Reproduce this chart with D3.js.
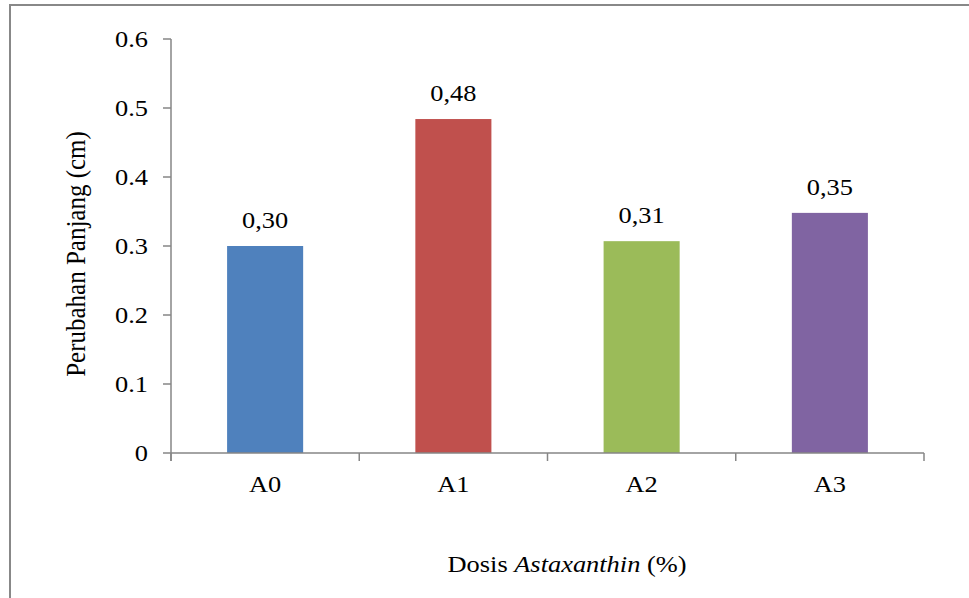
<!DOCTYPE html>
<html><head><meta charset="utf-8">
<script src="https://cdn.jsdelivr.net/npm/d3@7"></script>
<style>body{margin:0;background:#fff}svg{display:block}text{font-family:"Liberation Serif","Times New Roman",serif;fill:#000}</style>
</head><body>
<svg id="c" width="969" height="598"></svg>
<script>
const categories = ["A0","A1","A2","A3"];
const values = [0.300, 0.484, 0.307, 0.348];
const valueLabels = ["0,30","0,48","0,31","0,35"];
const colors = ["#4F81BD","#C0504D","#9BBB59","#8064A2"];
const yTicks = [0,0.1,0.2,0.3,0.4,0.5,0.6];
const yTickLabels = ["0","0.1","0.2","0.3","0.4","0.5","0.6"];

const svg = d3.select("#c");
const L=171, R=924, T=39, B=453;
const axisColor = "#868686";
const SX = 1.1;
function txt(g, px, py, anchor, size){
  return g.append("text").attr("transform",`translate(${px},${py}) scale(${SX},1)`)
    .attr("text-anchor",anchor).attr("font-size",size);
}

// frame
svg.append("line").attr("x1",10).attr("x2",969).attr("y1",5).attr("y2",5).attr("stroke","#888").attr("stroke-width",2);
svg.append("line").attr("x1",10).attr("x2",10).attr("y1",4).attr("y2",598).attr("stroke","#888").attr("stroke-width",2);

const x = d3.scaleBand().domain(categories).range([L,R]).paddingInner(0).paddingOuter(0);
const y = d3.scaleLinear().domain([0,0.6]).range([B,T]);
const bw = x.bandwidth()*0.404;

svg.selectAll("rect.bar").data(categories).enter().append("rect")
  .attr("x",d=>x(d)+x.bandwidth()/2-bw/2).attr("width",bw)
  .attr("y",(d,i)=>y(values[i])).attr("height",(d,i)=>B-y(values[i]))
  .attr("fill",(d,i)=>colors[i]);

// y axis
const ya = svg.append("g");
ya.append("line").attr("x1",L).attr("x2",L).attr("y1",T).attr("y2",B+8).attr("stroke",axisColor).attr("stroke-width",1.5);
yTicks.forEach((t,i)=>{
  ya.append("line").attr("x1",L-8).attr("x2",L).attr("y1",y(t)).attr("y2",y(t)).attr("stroke",axisColor).attr("stroke-width",1.5);
  txt(ya, L-23, y(t)+8, "end", 24).text(yTickLabels[i]);
});

// x axis
const xa = svg.append("g");
xa.append("line").attr("x1",L).attr("x2",R).attr("y1",B).attr("y2",B).attr("stroke",axisColor).attr("stroke-width",1.5);
const bounds = categories.map(c=>x(c)).concat([R]);
bounds.forEach(b=>{
  xa.append("line").attr("x1",b).attr("x2",b).attr("y1",B).attr("y2",B+8).attr("stroke",axisColor).attr("stroke-width",1.5);
});
categories.forEach(c=>{
  txt(xa, x(c)+x.bandwidth()/2, 492, "middle", 24).text(c);
});

// data labels
categories.forEach((c,i)=>{
  txt(svg, x(c)+x.bandwidth()/2, y(values[i])-18, "middle", 24).text(valueLabels[i]);
});

// axis titles
const xt = txt(svg, 567, 572, "middle", 24);
xt.append("tspan").text("Dosis ");
xt.append("tspan").attr("font-style","italic").text("Astaxanthin");
xt.append("tspan").text(" (%)");

svg.append("text").attr("transform","translate(85,254) rotate(-90) scale(1,1.1)").attr("text-anchor","middle").attr("font-size",25).text("Perubahan Panjang (cm)");
</script>
</body></html>
